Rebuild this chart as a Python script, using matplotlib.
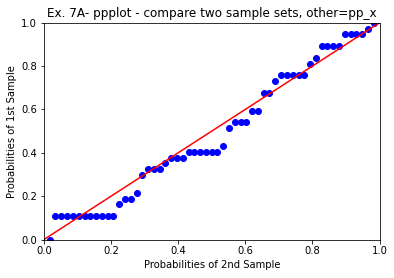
import matplotlib
matplotlib.use("Agg")
import matplotlib.pyplot as plt

# Plotting positions of the 1st sample (x) and ECDF probabilities of the 2nd (y)
p_x = [0.017, 0.034, 0.052, 0.069, 0.086, 0.103, 0.121, 0.138, 0.155, 0.172,
       0.190, 0.207, 0.224, 0.241, 0.259, 0.276, 0.293, 0.310, 0.328, 0.345,
       0.362, 0.379, 0.397, 0.414, 0.431, 0.448, 0.466, 0.483, 0.500, 0.517,
       0.534, 0.552, 0.569, 0.586, 0.603, 0.621, 0.638, 0.655, 0.672, 0.690,
       0.707, 0.724, 0.741, 0.759, 0.776, 0.793, 0.810, 0.828, 0.845, 0.862,
       0.879, 0.897, 0.914, 0.931, 0.948, 0.966, 0.983]
p_y = [0.000, 0.108, 0.108, 0.108, 0.108, 0.108, 0.108, 0.108, 0.108, 0.108,
       0.108, 0.108, 0.162, 0.189, 0.189, 0.216, 0.297, 0.324, 0.324, 0.324,
       0.351, 0.378, 0.378, 0.378, 0.405, 0.405, 0.405, 0.405, 0.405, 0.405,
       0.432, 0.514, 0.541, 0.541, 0.541, 0.595, 0.595, 0.676, 0.676, 0.730,
       0.757, 0.757, 0.757, 0.757, 0.757, 0.811, 0.838, 0.892, 0.892, 0.892,
       0.892, 0.946, 0.946, 0.946, 0.946, 0.973, 1.000]
ref_line = [0.0, 1.0]

title = "Ex. 7A- ppplot - compare two sample sets, other=pp_x"
xlabel = "Probabilities of 2nd Sample"
ylabel = "Probabilities of 1st Sample"

W, H = 394, 278
fig = plt.figure(figsize=(W / 72, H / 72), dpi=72)
ax = fig.add_axes([44 / W, (H - 239.5) / H, (379.5 - 44) / W, (239.5 - 22.7) / H])

ax.plot(p_x, p_y, 'bo', markersize=6)
ax.plot(ref_line, ref_line, 'r-', linewidth=1.5)
ax.set_xlim(0, 1)
ax.set_ylim(0, 1)
ax.set_title(title, fontsize=12)
ax.set_xlabel(xlabel, fontsize=10)
ax.set_ylabel(ylabel, fontsize=10)
ax.tick_params(labelsize=10)

fig.savefig("out.png", dpi=72)
